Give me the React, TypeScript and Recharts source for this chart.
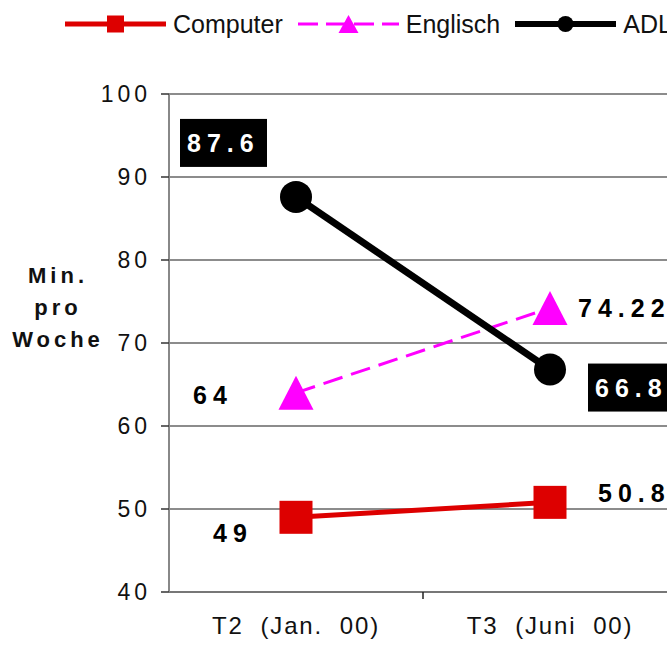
import React from 'react';
import {
  ComposedChart,
  Line,
  XAxis,
  YAxis,
  CartesianGrid,
  Legend,
  LabelList,
} from 'recharts';

// Zeitpunkte und Werte (Minuten pro Woche)
const periods = ['T2  (Jan.  00)', 'T3  (Juni  00)'];
const computer = [49, 50.8];
const englisch = [64, 74.22];
const adl = [87.6, 66.8];
const yTicks = [40, 50, 60, 70, 80, 90, 100];

const data = periods.map((period, i) => ({
  period,
  Computer: computer[i],
  Englisch: englisch[i],
  ADL: adl[i],
}));

const FONT = '"Liberation Sans", Arial, Helvetica, sans-serif';
const CHART_W = 690;
const CHART_H = 646;
const MARGIN = { top: 94, right: 13, bottom: 14, left: 0 };
const Y_AXIS_W = 169;
const BAND_W = (CHART_W - MARGIN.left - MARGIN.right - Y_AXIS_W) / periods.length;

const RED = '#DD0000';
const MAGENTA = '#FF00FF';
const BLACK = '#000000';

// label offsets relative to each point: [dx, dy] to the start of the text
const computerLabelPos = [[-83, 16], [48, -9]];
const englischLabelPos = [[-103, 2], [28, 0]];
const adlLabelPos = [[-109, -54], [45, 18]];

const squareDot = (props: any) => {
  const { cx, cy, index } = props;
  const s = 33;
  return <rect key={`sq-${index}`} x={cx - s / 2} y={cy - s / 2} width={s} height={s} fill={RED} />;
};

const triangleDot = (props: any) => {
  const { cx, cy, index } = props;
  const w = 35;
  const h = 34;
  const pts = `${cx},${cy - h / 2} ${cx + w / 2},${cy + h / 2} ${cx - w / 2},${cy + h / 2}`;
  return <polygon key={`tri-${index}`} points={pts} fill={MAGENTA} />;
};

const circleDot = (props: any) => {
  const { cx, cy, index } = props;
  return <circle key={`ci-${index}`} cx={cx} cy={cy} r={16} fill={BLACK} />;
};

const valueLabel = (pos: number[][], boxed: boolean) => (props: any) => {
  const { x, y, value, index } = props;
  const [dx, dy] = pos[index];
  const tx = x + dx;
  const ty = y + dy;
  return (
    <g key={`lbl-${index}`}>
      {boxed && <rect x={tx - 7} y={ty - 24} width={87} height={48} fill={BLACK} />}
      <text
        x={tx}
        y={ty}
        dominantBaseline="central"
        fontFamily={FONT}
        fontSize={25}
        fontWeight="bold"
        letterSpacing={6}
        fill={boxed ? '#FFFFFF' : BLACK}
      >
        {String(value)}
      </text>
    </g>
  );
};

const YTick = (props: any) => {
  const { x, y, payload } = props;
  return (
    <text x={x} y={y} dy="0.36em" textAnchor="end" fontFamily={FONT} fontSize={23} letterSpacing={4} fill="#111">
      {payload.value}
    </text>
  );
};

const XTick = (props: any) => {
  const { x, y, payload, index } = props;
  return (
    <g>
      {index === 0 && (
        <line x1={x + BAND_W / 2} y1={y - 7} x2={x + BAND_W / 2} y2={y} stroke="#222" strokeWidth={1.5} />
      )}
      <text
        x={x}
        y={y + 35}
        textAnchor="middle"
        fontFamily={FONT}
        fontSize={24}
        letterSpacing={1.8}
        fill="#111"
        style={{ whiteSpace: 'pre' }}
      >
        {payload.value}
      </text>
    </g>
  );
};

const YLabel = (props: any) => {
  const { viewBox } = props;
  const cx = viewBox.x + 56;
  const lines = ['Min.', 'pro', 'Woche'];
  return (
    <text textAnchor="middle" fontFamily={FONT} fontSize={22} fontWeight="bold" letterSpacing={4} fill="#111">
      {lines.map((t, i) => (
        <tspan key={t} x={cx + 2} y={283 + i * 32}>
          {t}
        </tspan>
      ))}
    </text>
  );
};

const legendItems = [
  { name: 'Computer', color: RED, width: 5, dash: undefined, marker: 'square' },
  { name: 'Englisch', color: MAGENTA, width: 3, dash: '20 8', marker: 'triangle' },
  { name: 'ADL', color: BLACK, width: 6, dash: undefined, marker: 'circle' },
];

const LegendContent = () => (
  <div
    style={{
      display: 'flex',
      alignItems: 'center',
      paddingLeft: 65,
      height: 48,
      fontFamily: FONT,
      fontSize: 25,
      color: '#111',
      whiteSpace: 'nowrap',
    }}
  >
    {legendItems.map((it) => (
      <div key={it.name} style={{ display: 'flex', alignItems: 'center', marginRight: 15 }}>
        <svg width={101} height={22} style={{ display: 'block' }}>
          <line x1={0} y1={11} x2={101} y2={11} stroke={it.color} strokeWidth={it.width} strokeDasharray={it.dash} />
          {it.marker === 'square' && <rect x={42} y={2.5} width={17} height={17} fill={it.color} />}
          {it.marker === 'triangle' && <polygon points="50.5,2 60.5,20 40.5,20" fill={it.color} />}
          {it.marker === 'circle' && <circle cx={50.5} cy={11} r={8} fill={it.color} />}
        </svg>
        <span style={{ marginLeft: 7 }}>{it.name}</span>
      </div>
    ))}
  </div>
);

export default function App() {
  return (
    <div
      style={{
        position: 'absolute',
        left: 0,
        top: 0,
        width: 667,
        height: 646,
        overflow: 'hidden',
        background: '#fff',
      }}
    >
      <ComposedChart width={CHART_W} height={CHART_H} data={data} margin={MARGIN}>
        <CartesianGrid vertical={false} stroke="#666" strokeWidth={1.5} />
        <XAxis
          dataKey="period"
          type="category"
          scale="band"
          height={40}
          tickLine={false}
          tickSize={7}
          tickMargin={0}
          axisLine={{ stroke: '#777', strokeWidth: 2 }}
          tick={<XTick />}
          interval={0}
        />
        <YAxis
          width={Y_AXIS_W}
          domain={[40, 100]}
          ticks={yTicks}
          interval={0}
          tickSize={8}
          tickMargin={10}
          tickLine={{ stroke: '#333', strokeWidth: 1.5 }}
          axisLine={{ stroke: '#888', strokeWidth: 2 }}
          tick={<YTick />}
          label={{ content: <YLabel /> }}
        />
        <Legend
          layout="horizontal"
          verticalAlign="middle"
          align="center"
          wrapperStyle={{ top: 0, left: 0, width: CHART_W }}
          content={<LegendContent />}
        />
        <Line
          dataKey="Computer"
          stroke={RED}
          strokeWidth={5}
          dot={squareDot}
          isAnimationActive={false}
        >
          <LabelList dataKey="Computer" content={valueLabel(computerLabelPos, false)} />
        </Line>
        <Line
          dataKey="Englisch"
          stroke={MAGENTA}
          strokeWidth={3}
          strokeDasharray="20 9"
          dot={triangleDot}
          isAnimationActive={false}
        >
          <LabelList dataKey="Englisch" content={valueLabel(englischLabelPos, false)} />
        </Line>
        <Line
          dataKey="ADL"
          stroke={BLACK}
          strokeWidth={7}
          dot={circleDot}
          isAnimationActive={false}
        >
          <LabelList dataKey="ADL" content={valueLabel(adlLabelPos, true)} />
        </Line>
      </ComposedChart>
    </div>
  );
}
